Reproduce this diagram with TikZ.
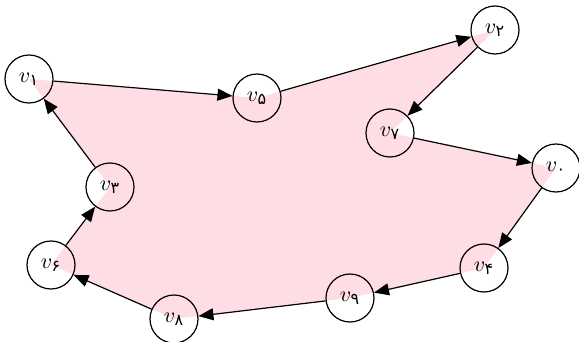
\documentclass[tikz,border=0pt]{standalone}
\usepackage{fontspec}
\newfontfamily\arabicfont[Script=Arabic]{DejaVu Sans}
\usetikzlibrary{arrows.meta}
\newcommand{\vlab}[1]{$v_{\mbox{\fontsize{8}{9}\selectfont\arabicfont #1}}$}
\tikzset{
  vert/.style={circle, draw, line width=0.6pt, minimum size=24pt, inner sep=0pt,
               font=\fontsize{11}{13}\selectfont},
  edge/.style={line width=0.6pt, -{Triangle[length=7.5pt,width=6pt]}},
  region/.style={fill={rgb,255:red,255;green,221;blue,228}}
}
\begin{document}
\begin{tikzpicture}[x=0.5pt,y=-0.5pt]
\useasboundingbox (0,0) rectangle (579,342);
% vertex positions
\coordinate (p1) at (29,79);
\coordinate (p5) at (257,98);
\coordinate (p2) at (495,30);
\coordinate (p7) at (390,133);
\coordinate (p0) at (556,168);
\coordinate (p4) at (484,268);
\coordinate (p9) at (350,298);
\coordinate (p8) at (174,319);
\coordinate (p6) at (51,265);
\coordinate (p3) at (110,187);
% shaded polygon through the vertex centres
\path[region] (p1) -- (p5) -- (p2) -- (p7) -- (p0) -- (p4) -- (p9) -- (p8) -- (p6) -- (p3) -- cycle;
% vertices
\node[vert] (v1) at (p1) {\vlab{۱}};
\node[vert] (v5) at (p5) {\vlab{۵}};
\node[vert] (v2) at (p2) {\vlab{۲}};
\node[vert] (v7) at (p7) {\vlab{۷}};
\node[vert] (v0) at (p0) {\vlab{۰}};
\node[vert] (v4) at (p4) {\vlab{۴}};
\node[vert] (v9) at (p9) {\vlab{۹}};
\node[vert] (v8) at (p8) {\vlab{۸}};
\node[vert] (v6) at (p6) {\vlab{۶}};
\node[vert] (v3) at (p3) {\vlab{۳}};
% directed cycle
\draw[edge] (v1) -- (v5);
\draw[edge] (v5) -- (v2);
\draw[edge] (v2) -- (v7);
\draw[edge] (v7) -- (v0);
\draw[edge] (v0) -- (v4);
\draw[edge] (v4) -- (v9);
\draw[edge] (v9) -- (v8);
\draw[edge] (v8) -- (v6);
\draw[edge] (v6) -- (v3);
\draw[edge] (v3) -- (v1);
\end{tikzpicture}
\end{document}
